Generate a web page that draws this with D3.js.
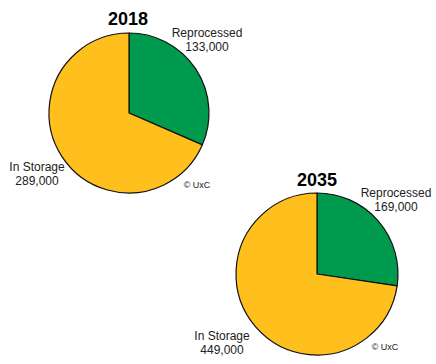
<!DOCTYPE html>
<html><head><meta charset="utf-8">
<script src="https://cdn.jsdelivr.net/npm/d3@7"></script>
<style>body{margin:0;background:#fff}svg{display:block;font-family:Arial,"Liberation Sans",sans-serif}</style>
</head><body><svg id="c" width="436" height="364"></svg>
<script>
const years = ["2018", "2035"];
const categories = ["Reprocessed", "In Storage"];
const reprocessed = [133000, 169000];
const inStorage = [289000, 449000];
const colors = ["#009A4E", "#FFBF1C"];

const svg = d3.select("#c");
const layout = [
  {cx:129, cy:113, r:80, title:[128,25], rep:[207,37], sto:[37,171], cr:[197,188]},
  {cx:317, cy:274, r:81, title:[317,186], rep:[396,197], sto:[222,340], cr:[385,350]}
];
const fmt = d3.format(",");
const pie = d3.pie().sort(null).value(d => d.v);
years.forEach((yr, i) => {
  const L = layout[i];
  const data = [{k:categories[0], v:reprocessed[i]}, {k:categories[1], v:inStorage[i]}];
  const arc = d3.arc().innerRadius(0).outerRadius(L.r);
  const g = svg.append("g").attr("transform", `translate(${L.cx},${L.cy})`);
  g.selectAll("path").data(pie(data)).join("path")
    .attr("d", arc).attr("fill", (d,j) => colors[j])
    .attr("stroke", "#111").attr("stroke-width", 1.2).attr("stroke-linejoin","round");
  svg.append("text").attr("x", L.title[0]).attr("y", L.title[1]).attr("text-anchor","middle")
    .attr("font-size", 18).attr("font-weight","bold").attr("fill","#000").text(yr);
  const lab = (pos, name, v) => {
    const t = svg.append("text").attr("text-anchor","middle").attr("font-size",12).attr("fill","#222");
    t.append("tspan").attr("x", pos[0]).attr("y", pos[1]).text(name);
    t.append("tspan").attr("x", pos[0]).attr("y", pos[1]+14).text(fmt(v));
  };
  lab(L.rep, categories[0], reprocessed[i]);
  lab(L.sto, categories[1], inStorage[i]);
  svg.append("text").attr("x", L.cr[0]).attr("y", L.cr[1]).attr("text-anchor","middle")
    .attr("font-size", 9).attr("fill","#222").text("© UxC");
});
</script></body></html>
